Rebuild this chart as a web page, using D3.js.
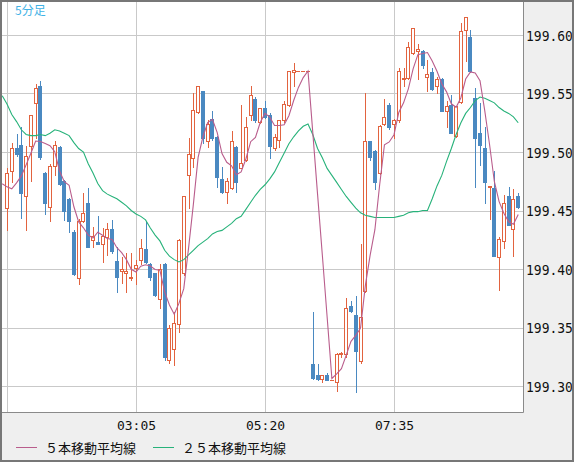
<!DOCTYPE html>
<html>
<head>
<meta charset="utf-8">
<script src="https://cdn.jsdelivr.net/npm/d3@7"></script>
<style>
  body { margin: 0; background: #fff; }
  svg { display: block; }
</style>
</head>
<body>
<svg id="chart"></svg>
<script>

var width = 574, height = 462
var plotW = 523, plotH = 412

var upColor = "#e2633f", downColor = "#4a89c1"
var ma5Color = "#b95d8c", ma25Color = "#27b27a"

// bars are 5 minutes apart, first one at 00:50
var startTime = "00:50"
var barMinutes = 5
var xTickLabels = ["00:50", "03:05", "05:20", "07:35"]
var yTicks = [199.30, 199.35, 199.40, 199.45, 199.50, 199.55, 199.60]

var open = [
199.452,199.484,199.503,199.506,199.462,199.505,199.542,199.556,199.482,199.453,
199.488,199.504,199.475,199.460,199.432,199.392,199.441,199.456,199.425,199.423,
199.421,199.427,199.434,199.407,199.398,199.397,199.392,199.401,199.408,199.417,
199.404,199.397,199.374,199.404,199.322,199.332,199.353,199.397,199.480,199.495,
199.534,199.552,199.509,199.528,199.513,199.477,199.466,199.469,199.504,199.486,
199.493,199.532,199.545,199.526,199.538,199.532,199.503,199.510,199.527,199.540,
199.568,199.569,199.569,199.569,199.319,199.309,199.306,199.309,199.305,199.303,
199.327,199.327,199.368,199.361,199.321,199.381,199.509,199.501,199.482,199.524,
199.540,199.524,199.527,199.562,199.563,199.585,199.586,199.586,199.564,199.568,
199.556,199.562,199.535,199.540,199.514,199.543,199.604,199.598,199.546,199.516,
199.503,199.470,199.469,199.410,199.424,199.462,199.434,199.462]

var high = [
199.486,199.508,199.515,199.521,199.505,199.532,199.558,199.561,199.483,199.490,
199.509,199.505,199.476,199.461,199.433,199.443,199.465,199.469,199.436,199.445,
199.435,199.439,199.442,199.419,199.410,199.414,199.414,199.408,199.426,199.440,
199.405,199.397,199.404,199.405,199.352,199.363,199.426,199.462,199.512,199.550,
199.556,199.552,199.527,199.535,199.514,199.487,199.478,199.518,199.505,199.540,
199.530,199.556,199.547,199.538,199.544,199.533,199.515,199.527,199.544,199.569,
199.576,199.569,199.569,199.569,199.363,199.319,199.309,199.311,199.305,199.328,
199.329,199.375,199.373,199.377,199.421,199.550,199.509,199.502,199.523,199.545,
199.542,199.528,199.572,199.572,199.594,199.606,199.592,199.587,199.579,199.572,
199.564,199.563,199.544,199.549,199.539,199.610,199.615,199.604,199.555,199.542,
199.521,199.471,199.484,199.427,199.463,199.470,199.468,199.465]

var low = [
199.433,199.474,199.497,199.444,199.433,199.475,199.512,199.494,199.447,199.441,
199.480,199.472,199.442,199.432,199.395,199.387,199.440,199.419,199.419,199.421,
199.406,199.412,199.414,199.380,199.388,199.380,199.391,199.387,199.404,199.405,
199.391,199.377,199.367,199.322,199.320,199.318,199.346,199.395,199.452,199.487,
199.533,199.508,199.504,199.510,199.470,199.465,199.456,199.468,199.466,199.486,
199.492,199.527,199.526,199.525,199.529,199.495,199.502,199.504,199.526,199.539,
199.556,199.569,199.569,199.569,199.306,199.305,199.303,199.305,199.305,199.296,
199.325,199.325,199.363,199.295,199.320,199.380,199.493,199.468,199.481,199.523,
199.520,199.512,199.526,199.556,199.562,199.584,199.562,199.572,199.552,199.553,
199.550,199.535,199.521,199.516,199.513,199.542,199.578,199.568,199.470,199.489,
199.456,199.443,199.411,199.382,199.418,199.438,199.411,199.452]

var close = [
199.482,199.503,199.498,199.465,199.497,199.532,199.555,199.496,199.456,199.488,
199.506,199.473,199.450,199.441,199.396,199.441,199.448,199.419,199.428,199.421,
199.428,199.434,199.415,199.393,199.400,199.398,199.393,199.403,199.418,199.406,
199.393,199.378,199.400,199.325,199.350,199.354,199.425,199.462,199.498,199.536,
199.556,199.512,199.524,199.512,199.479,199.466,199.475,199.509,199.474,199.491,
199.521,199.549,199.527,199.538,199.530,199.505,199.513,199.527,199.541,199.569,
199.570,199.569,199.569,199.569,199.307,199.306,199.309,199.305,199.305,199.327,
199.328,199.367,199.364,199.330,199.359,199.509,199.496,199.474,199.522,199.530,
199.521,199.527,199.569,199.563,199.590,199.606,199.588,199.574,199.567,199.554,
199.562,199.535,199.539,199.516,199.539,199.603,199.615,199.569,199.512,199.506,
199.474,199.471,199.411,199.426,199.456,199.438,199.460,199.453]

// closes of the five bars before the first one shown (needed for the 5 bar average)
var prevClose = [199.495, 199.511, 199.473, 199.435, 199.450]

// 25 bar average, first value is the bar just before the first candle
var ma25 = [199.548,
199.541,199.532,199.526,199.519,199.515,199.514,199.514,199.515,199.514,199.516,
199.519,199.518,199.516,199.514,199.508,199.503,199.500,199.490,199.482,199.473,
199.467,199.464,199.462,199.460,199.457,199.454,199.450,199.447,199.445,199.442,
199.435,199.429,199.424,199.416,199.411,199.408,199.406,199.408,199.412,199.416,
199.420,199.423,199.426,199.430,199.432,199.433,199.436,199.439,199.443,199.445,
199.451,199.457,199.463,199.468,199.472,199.477,199.483,199.491,199.499,199.507,
199.513,199.518,199.522,199.524,199.515,199.503,199.495,199.486,199.480,199.474,
199.468,199.462,199.457,199.452,199.448,199.446,199.445,199.444,199.444,199.444,
199.444,199.444,199.445,199.446,199.448,199.449,199.449,199.450,199.450,199.460,
199.471,199.480,199.492,199.503,199.515,199.525,199.533,199.538,199.544,199.547,
199.546,199.544,199.542,199.538,199.535,199.533,199.530,199.525]

function minutes(t) {
  var p = t.split(":")
  return (+p[0]) * 60 + (+p[1])
}
function barIndex(t) {
  return (minutes(t) - minutes(startTime)) / barMinutes
}

var bars = open.map(function(o, i) {
  return { i: i, o: o, h: high[i], l: low[i], c: close[i] }
})

// 5 bar simple moving average of closes, from the bar before the first candle
var allClose = prevClose.concat(close)
var ma5 = []
for (var k = 4; k < allClose.length; k++) {
  ma5.push({ i: k - 5, v: d3.mean(allClose.slice(k - 4, k + 1)) })
}
var ma25pts = ma25.map(function(v, k) { return { i: k - 1, v: v } })

var x = d3.scaleLinear().domain([0, 108]).range([7, plotW])
var y = d3.scaleLinear().domain([199.30, 199.60]).range([386, 35])

var svg = d3.select("#chart")
  .attr("width", width)
  .attr("height", height)

svg.append("rect")
  .attr("width", width).attr("height", height)
  .attr("fill", "#efefef")

svg.append("rect")
  .attr("width", plotW).attr("height", plotH)
  .attr("fill", "#fff")

svg.append("defs").append("clipPath").attr("id", "clip")
  .append("rect").attr("x", 1).attr("y", 1)
  .attr("width", plotW - 1).attr("height", plotH - 1)

// grid
var grid = svg.append("g").attr("stroke", "#c9c9c9").attr("shape-rendering", "crispEdges")
grid.selectAll("line.h")
  .data(yTicks)
  .enter().append("line")
  .attr("x1", 0).attr("x2", plotW)
  .attr("y1", function(d) { return Math.round(y(d)) + 0.5 })
  .attr("y2", function(d) { return Math.round(y(d)) + 0.5 })
grid.selectAll("line.v")
  .data(xTickLabels)
  .enter().append("line")
  .attr("y1", 0).attr("y2", plotH)
  .attr("x1", function(d) { return Math.round(x(barIndex(d))) + 0.5 })
  .attr("x2", function(d) { return Math.round(x(barIndex(d))) + 0.5 })

var plot = svg.append("g").attr("clip-path", "url(#clip)")

// candles
var candle = plot.append("g").attr("shape-rendering", "crispEdges")
  .selectAll("g")
  .data(bars)
  .enter().append("g")

function cx(d) { return Math.round(x(d.i)) }
function col(d) { return d.c < d.o ? downColor : upColor }

candle.append("line")
  .attr("x1", function(d) { return cx(d) + 0.5 })
  .attr("x2", function(d) { return cx(d) + 0.5 })
  .attr("y1", function(d) { return Math.round(y(d.h)) })
  .attr("y2", function(d) { return Math.round(y(d.l)) + 1 })
  .attr("stroke", col)

candle.filter(function(d) { return d.c > d.o }).append("rect")
  .attr("x", function(d) { return cx(d) - 1.5 })
  .attr("y", function(d) { return Math.round(y(d.c)) + 0.5 })
  .attr("width", 3)
  .attr("height", function(d) { return Math.max(1, Math.round(y(d.o)) - Math.round(y(d.c))) })
  .attr("fill", "#fff")
  .attr("stroke", upColor)

candle.filter(function(d) { return d.c < d.o }).append("rect")
  .attr("x", function(d) { return cx(d) - 2 })
  .attr("y", function(d) { return Math.round(y(d.o)) })
  .attr("width", 4)
  .attr("height", function(d) { return Math.max(1, Math.round(y(d.c)) - Math.round(y(d.o)) + 1) })
  .attr("fill", downColor)

candle.filter(function(d) { return d.c == d.o }).append("line")
  .attr("x1", function(d) { return cx(d) - 2 })
  .attr("x2", function(d) { return cx(d) + 2 })
  .attr("y1", function(d) { return Math.round(y(d.c)) + 0.5 })
  .attr("y2", function(d) { return Math.round(y(d.c)) + 0.5 })
  .attr("stroke", upColor)

// moving averages
var line = d3.line()
  .x(function(d) { return x(d.i) })
  .y(function(d) { return y(d.v) })

plot.append("path").datum(ma25pts)
  .attr("d", line).attr("fill", "none")
  .attr("stroke", ma25Color).attr("stroke-width", 1.1)

plot.append("path").datum(ma5)
  .attr("d", line).attr("fill", "none")
  .attr("stroke", ma5Color).attr("stroke-width", 1.1)

// plot border
svg.append("path")
  .attr("d", "M0," + (plotH + 0.5) + "H" + (plotW + 0.5) + "V0")
  .attr("fill", "none").attr("stroke", "#8a8a8a")

// axes
var yAxis = svg.append("g")
  .attr("transform", "translate(" + plotW + ",0)")
  .call(d3.axisRight(y).tickValues(yTicks).tickFormat(d3.format(".2f")).tickSize(0).tickPadding(3))
yAxis.select(".domain").remove()
// the chart's digits are a little taller than DejaVu at this width
yAxis.selectAll("text")
  .attr("font-family", "DejaVu Sans Mono").attr("font-size", 13).attr("fill", "#111")
  .attr("dy", "0.36em")
  .attr("transform", "scale(1,1.15)")

var xAxis = svg.append("g")
  .attr("transform", "translate(0," + plotH + ")")
  .call(d3.axisBottom(x)
    .tickValues(xTickLabels.map(barIndex))
    .tickFormat(function(d, i) { return xTickLabels[i] })
    .tickSize(0).tickPadding(8.5))
xAxis.select(".domain").remove()
xAxis.selectAll("text")
  .attr("font-family", "DejaVu Sans Mono").attr("font-size", 13).attr("fill", "#111")
// labels that would be cut by the left edge are left out
xAxis.selectAll(".tick").filter(function(d) { return x(d) < 25 }).remove()

// title
svg.append("text")
  .attr("x", 15).attr("y", 15)
  .attr("font-family", "Noto Sans CJK JP").attr("font-size", 12)
  .attr("fill", "#3fb2e6")
  .text("5分足")

// legend
var legend = [
  { label: "５本移動平均線", color: ma5Color, x: 16 },
  { label: "２５本移動平均線", color: ma25Color, x: 153 }
]
var lg = svg.append("g").selectAll("g")
  .data(legend)
  .enter().append("g")
  .attr("transform", function(d) { return "translate(" + d.x + ",0)" })
lg.append("line")
  .attr("x1", 0).attr("x2", 21)
  .attr("y1", 447.5).attr("y2", 447.5)
  .attr("stroke", function(d) { return d.color })
lg.append("text")
  .attr("x", 29).attr("y", 452.5)
  .attr("font-family", "Noto Sans CJK JP").attr("font-size", 13)
  .attr("fill", "#111")
  .text(function(d) { return d.label })

// outer frame
svg.append("rect")
  .attr("x", 1).attr("y", 1)
  .attr("width", width - 2).attr("height", height - 2)
  .attr("fill", "none").attr("stroke", "#777").attr("stroke-width", 2)

</script>
</body>
</html>
